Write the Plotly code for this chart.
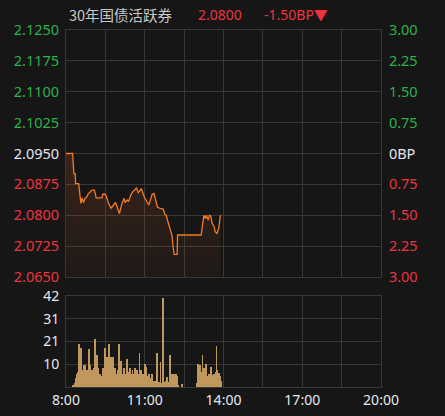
import pandas as pd
import plotly.graph_objects as go

DAY = "2024-01-02 "

# ---- price line (time, yield) ----
price_times = ["08:00", "08:15", "08:18", "08:21", "08:22", "08:29", "08:34", "08:37", "08:40",
               "08:44", "08:48", "08:50", "08:59", "09:05", "09:09", "09:22", "09:24", "09:30",
               "09:34", "09:37", "09:43", "09:49", "09:53", "09:57", "10:02", "10:08", "10:13",
               "10:15", "10:20", "10:23", "10:28", "10:33", "10:37", "10:41", "10:45", "10:48",
               "10:52", "10:56", "11:00", "11:06", "11:09", "11:14", "11:17", "11:21", "11:24",
               "11:29", "11:34", "11:42", "11:46", "11:49", "11:52", "11:57", "12:02", "12:05",
               "12:07", "12:14", "12:15", "13:09", "13:13", "13:15", "13:18", "13:21", "13:25",
               "13:28", "13:31", "13:34", "13:38", "13:41", "13:45", "13:49", "13:53"]
price_vals = [2.0950, 2.0950, 2.0901, 2.0901, 2.0877, 2.0877, 2.0829, 2.0842, 2.0831,
              2.0842, 2.0845, 2.0851, 2.0861, 2.0861, 2.0842, 2.0842, 2.0851, 2.0851,
              2.0841, 2.0829, 2.0817, 2.0826, 2.0831, 2.0820, 2.0804, 2.0829, 2.0841,
              2.0831, 2.0837, 2.0833, 2.0849, 2.0858, 2.0861, 2.0867, 2.0855, 2.0858,
              2.0865, 2.0853, 2.0842, 2.0831, 2.0825, 2.0841, 2.0851, 2.0853, 2.0841,
              2.0820, 2.0817, 2.0815, 2.0802, 2.0800, 2.0788, 2.0768, 2.0752, 2.0723,
              2.0705, 2.0705, 2.0752, 2.0752, 2.0788, 2.0800, 2.0792, 2.0800, 2.0788,
              2.0800, 2.0798, 2.0780, 2.0774, 2.0760, 2.0756, 2.0768, 2.0800]
base_yield = 2.0950

# ---- volume bars (2-minute buckets) ----
vol_am_start = "08:16"
vol_am = [1, 1, 2, 4, 6, 5, 7, 20, 9, 18, 6, 8, 10, 5, 10, 4, 8, 5, 17.6, 6,
          10, 4, 8, 5, 9, 22, 8, 15, 6, 8.6, 4, 6, 3, 5, 9, 7, 5, 18, 7, 14,
          9, 20, 8, 14, 12, 6, 14, 7, 8.6, 4, 6, 8, 20, 20, 9, 12, 6, 5, 8.6, 4,
          6, 5, 13, 5, 7, 8.6, 4, 6, 8, 5, 6, 9, 5, 8, 4, 6, 15.6, 5, 8, 4,
          6, 5, 10.4, 7, 9.3, 5, 4, 6, 3, 4, 6, 3, 2, 2.3, 3, 1, 15.6, 2, 2.3, 1,
          11.7, 2, 1, 41, 2, 2.3, 3, 4.7, 2, 2.3, 1, 14.8, 3, 5.8, 5.8, 5, 5.8, 5.8, 5.8, 5,
          0.8, 0, 0, 0, 0.5, 1.6]
vol_pm_start = "13:00"
vol_pm = [2, 10.4, 6, 10, 5, 7, 14.8, 5, 8.6, 4, 10.4, 5, 4, 6, 3, 5, 9.3, 4,
          5.4, 6, 3, 7, 18.7, 7.8, 5, 6.6, 5, 3]

# ---- axis labels ----
left_ticks = [2.0650, 2.0725, 2.0800, 2.0875, 2.0950, 2.1025, 2.1100, 2.1175, 2.1250]
bp_ticks = [-3.00, -2.25, -1.50, -0.75, 0.0, 0.75, 1.50, 2.25, 3.00]
vol_ticks = [0, 10.5, 21, 31.5, 42]
vol_labels = ["", "10", "21", "31", "42"]
x_grid = ["08:00", "09:30", "11:00", "12:30", "14:00", "15:30", "17:00", "18:30", "20:00"]
x_labels = ["8:00", "", "11:00", "", "14:00", "", "17:00", "", "20:00"]

title_name = "30年国债活跃券"
title_last = "2.0800"
title_chg = "-1.50BP▼"

GREEN = "#2bb24c"
RED = "#f0333f"
WHITE = "#e4e8ee"
GRID = "#383838"
BG = "#161616"


def col(v, base):
    if abs(v - base) < 1e-9:
        return WHITE
    return GREEN if v > base else RED


left_text = [f"<span style='color:{col(v, base_yield)}'>{v:.4f}</span>" for v in left_ticks]
right_text = []
for v in bp_ticks:
    if v == 0:
        right_text.append(f"<span style='color:{WHITE}'>0BP</span>")
    else:
        right_text.append(f"<span style='color:{col(v, 0)}'>{abs(v):.2f}</span>")

px_times = [pd.Timestamp(DAY + t) for t in price_times]
bp_vals = [(p - base_yield) * 10000 for p in price_vals]
am_times = pd.date_range(DAY + vol_am_start, periods=len(vol_am), freq="2min")
pm_times = pd.date_range(DAY + vol_pm_start, periods=len(vol_pm), freq="2min")
grid_vals = [pd.Timestamp(DAY + t) for t in x_grid]

fig = go.Figure()
fig.add_trace(go.Scatter(
    x=px_times, y=price_vals, mode="lines",
    line=dict(color="#f47a24", width=1.3),
    fill="tozeroy",
    fillgradient=dict(type="vertical", start=2.065, stop=2.095,
                      colorscale=[[0, "rgba(255,110,40,0.04)"], [1, "rgba(255,110,40,0.15)"]]),
    xaxis="x", yaxis="y", hoverinfo="skip", showlegend=False))
fig.add_trace(go.Scatter(
    x=px_times, y=bp_vals, mode="lines", line=dict(width=0, color="rgba(0,0,0,0)"),
    xaxis="x", yaxis="y3", hoverinfo="skip", showlegend=False))
fig.add_trace(go.Bar(
    x=list(am_times) + list(pm_times), y=vol_am + vol_pm,
    width=120000, marker=dict(color="#c0975c", line=dict(width=0)),
    xaxis="x2", yaxis="y2", hoverinfo="skip", showlegend=False))

xr = [pd.Timestamp(DAY + "08:00"), pd.Timestamp(DAY + "20:00")]
common_x = dict(range=xr, type="date", tickmode="array", tickvals=grid_vals,
                showgrid=True, gridcolor=GRID, gridwidth=1, zeroline=False,
                showline=True, linecolor=GRID, linewidth=1, mirror=True, automargin=False)

fig.update_layout(
    width=445, height=416,
    margin=dict(l=66, r=64, t=30, b=29, autoexpand=False),
    paper_bgcolor=BG, plot_bgcolor=BG,
    font=dict(family="Noto Sans, Noto Sans CJK SC", size=14, color=WHITE),
    bargap=0,
    xaxis=dict(**common_x, anchor="y", showticklabels=False),
    xaxis2=dict(**common_x, anchor="y2", ticktext=x_labels, showticklabels=True,
                tickfont=dict(size=14, color=WHITE), ticks=""),
    yaxis=dict(domain=[0.3081, 1.0], range=[2.065, 2.125], tickmode="array",
               tickvals=left_ticks, ticktext=left_text, showgrid=True, gridcolor=GRID,
               zeroline=False, showline=True, linecolor=GRID, mirror=True, automargin=False,
               tickfont=dict(size=14.5), ticks="outside", ticklen=3, tickcolor="rgba(0,0,0,0)"),
    yaxis3=dict(overlaying="y", side="right", anchor="x", range=[-3, 3], tickmode="array",
                tickvals=bp_ticks, ticktext=right_text, showgrid=False, zeroline=False,
                automargin=False,
                tickfont=dict(size=14.5), ticks="outside", ticklen=4, tickcolor="rgba(0,0,0,0)"),
    yaxis2=dict(domain=[0, 0.2549], range=[0, 42], tickmode="array",
                tickvals=vol_ticks, ticktext=vol_labels, showgrid=True, gridcolor=GRID,
                zeroline=False, showline=True, linecolor=GRID, mirror=True, automargin=False,
                tickfont=dict(size=14, color=WHITE), ticks="outside", ticklen=3,
                tickcolor="rgba(0,0,0,0)"),
    annotations=[
        dict(text=title_name, x=0.003, y=1.0448, xref="paper", yref="paper",
             xanchor="left", yanchor="middle", showarrow=False,
             font=dict(size=14.5, color="#c8c8c8", family="Noto Sans CJK SC")),
        dict(text=title_last, x=0.4127, y=1.0448, xref="paper", yref="paper",
             xanchor="left", yanchor="middle", showarrow=False,
             font=dict(size=14, color=RED)),
        dict(text=title_chg, x=0.6222, y=1.0448, xref="paper", yref="paper",
             xanchor="left", yanchor="middle", showarrow=False,
             font=dict(size=14, color=RED)),
    ],
)

fig.write_html("out.html",
               config={"displayModeBar": False},
               post_script="document.body.style.margin='0px';"
                           "document.body.style.background='#161616';")
